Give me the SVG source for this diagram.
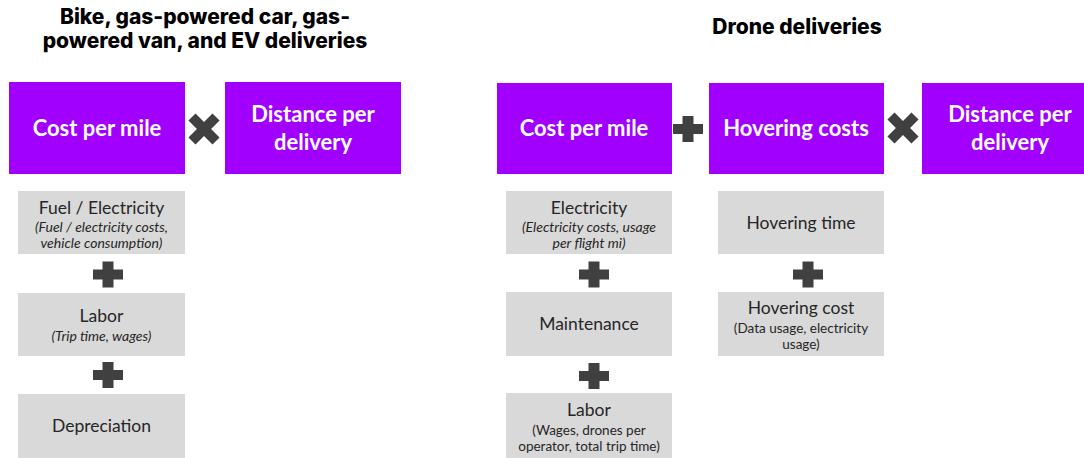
<svg xmlns="http://www.w3.org/2000/svg" width="1084" height="458" viewBox="0 0 1084 458">
<style>
.title{font-family:Inter,"Liberation Sans",sans-serif;font-weight:800;font-size:21px;fill:#000;text-anchor:middle}
.pbox{fill:#A100FF}
.gbox{fill:#D9D9D9}
.plab{font-family:Lato,"Liberation Sans",sans-serif;font-weight:700;font-size:22px;fill:#fff;text-anchor:middle}
.glab{font-family:Lato,"Liberation Sans",sans-serif;font-size:17.5px;fill:#262626;text-anchor:middle}
.gsub{font-family:Lato,"Liberation Sans",sans-serif;font-size:13.5px;fill:#262626;text-anchor:middle}
.it{font-style:italic;font-size:14px}
.op{fill:#404040}
</style>
<defs>
<path id="plus" d="M-5.5,-13 h11 v8 h9.5 v10 h-9.5 v8 h-11 v-8 h-9.5 v-10 h9.5 z"/>
<path id="times" d="M-5,-17 h10 v12 h12 v10 h-12 v12 h-10 v-12 h-12 v-10 h12 z" transform="rotate(45)"/>
</defs>

<g id="title-left">
<text class="title" x="205" y="24">Bike, gas-powered car, gas-</text>
<text class="title" x="205" y="48">powered van, and EV deliveries</text>
</g>
<g id="title-right">
<text class="title" x="797" y="34">Drone deliveries</text>
</g>

<g id="left-cost-per-mile">
<rect class="pbox" x="9" y="82" width="176" height="92"/>
<text class="plab" x="97" y="136">Cost per mile</text>
</g>
<g id="left-distance">
<rect class="pbox" x="225" y="82" width="176" height="92"/>
<text class="plab" x="313" y="122">Distance per</text>
<text class="plab" x="313" y="150">delivery</text>
</g>

<g id="right-cost-per-mile">
<rect class="pbox" x="497" y="83" width="175" height="91"/>
<text class="plab" x="584" y="136">Cost per mile</text>
</g>
<g id="right-hovering-costs">
<rect class="pbox" x="709" y="83" width="175" height="91"/>
<text class="plab" x="796" y="136">Hovering costs</text>
</g>
<g id="right-distance">
<rect class="pbox" x="922" y="83" width="176" height="91"/>
<text class="plab" x="1010" y="122">Distance per</text>
<text class="plab" x="1010" y="150">delivery</text>
</g>

<g id="left-fuel">
<rect class="gbox" x="18" y="191" width="167" height="63"/>
<text class="glab" x="101.5" y="214">Fuel / Electricity</text>
<text class="gsub it" x="101.5" y="232">(Fuel / electricity costs,</text>
<text class="gsub it" x="101.5" y="248">vehicle consumption)</text>
</g>
<g id="left-labor">
<rect class="gbox" x="18" y="293" width="167" height="63"/>
<text class="glab" x="101.5" y="322">Labor</text>
<text class="gsub it" x="101.5" y="341">(Trip time, wages)</text>
</g>
<g id="left-depreciation">
<rect class="gbox" x="18" y="394" width="167" height="64"/>
<text class="glab" x="101.5" y="432">Depreciation</text>
</g>

<g id="right-electricity">
<rect class="gbox" x="506" y="191" width="166" height="63"/>
<text class="glab" x="589" y="214">Electricity</text>
<text class="gsub it" x="589" y="232">(Electricity costs, usage</text>
<text class="gsub it" x="589" y="248">per flight mi)</text>
</g>
<g id="right-maintenance">
<rect class="gbox" x="506" y="292" width="166" height="64"/>
<text class="glab" x="589" y="330">Maintenance</text>
</g>
<g id="right-labor">
<rect class="gbox" x="506" y="393" width="166" height="65"/>
<text class="glab" x="589" y="416">Labor</text>
<text class="gsub" x="589" y="435">(Wages, drones per</text>
<text class="gsub" x="589" y="451">operator, total trip time)</text>
</g>
<g id="right-hovering-time">
<rect class="gbox" x="718" y="191" width="166" height="63"/>
<text class="glab" x="801" y="229">Hovering time</text>
</g>
<g id="right-hovering-cost">
<rect class="gbox" x="718" y="292" width="166" height="64"/>
<text class="glab" x="801" y="314">Hovering cost</text>
<text class="gsub" x="801" y="333">(Data usage, electricity</text>
<text class="gsub" x="801" y="349">usage)</text>
</g>

<g id="connectors">
<use href="#times" class="op" x="204" y="129"/>
<use href="#plus" class="op" x="108" y="274.5"/>
<use href="#plus" class="op" x="108" y="375"/>
<use href="#plus" class="op" x="688" y="129"/>
<use href="#times" class="op" x="903" y="128"/>
<use href="#plus" class="op" x="594" y="274.5"/>
<use href="#plus" class="op" x="594" y="376"/>
<use href="#plus" class="op" x="808" y="274.5"/>
</g>
</svg>
